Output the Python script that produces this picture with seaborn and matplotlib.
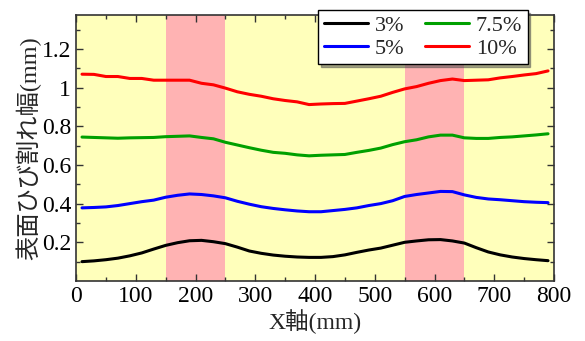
import numpy as np
import matplotlib
matplotlib.use("Agg")
import matplotlib.pyplot as plt
import seaborn as sns
import pandas as pd

# positions along the member (mm)
x_mm = [10, 30, 50, 70, 90, 110, 130, 150, 170, 190,
        210, 230, 250, 270, 290, 310, 330, 350, 370, 390,
        410, 430, 450, 470, 490, 510, 530, 550, 570, 590,
        610, 630, 650, 670, 690, 710, 730, 750, 770, 790]

# surface crack width (mm)
w_3 = [0.100, 0.104, 0.110, 0.118, 0.130, 0.145, 0.165, 0.184, 0.198, 0.208,
       0.210, 0.203, 0.193, 0.175, 0.155, 0.143, 0.134, 0.128, 0.124, 0.122,
       0.122, 0.126, 0.135, 0.148, 0.160, 0.170, 0.185, 0.200, 0.207, 0.213,
       0.214, 0.207, 0.196, 0.172, 0.150, 0.135, 0.124, 0.116, 0.110, 0.105]
w_5 = [0.378, 0.380, 0.383, 0.390, 0.400, 0.410, 0.418, 0.433, 0.443, 0.450,
       0.447, 0.440, 0.430, 0.412, 0.397, 0.384, 0.375, 0.368, 0.362, 0.358,
       0.358, 0.364, 0.370, 0.378, 0.390, 0.400, 0.415, 0.437, 0.447, 0.455,
       0.463, 0.462, 0.445, 0.432, 0.424, 0.420, 0.415, 0.410, 0.407, 0.405]
w_75 = [0.744, 0.742, 0.740, 0.738, 0.740, 0.741, 0.742, 0.746, 0.748, 0.750,
        0.742, 0.735, 0.717, 0.703, 0.689, 0.676, 0.665, 0.660, 0.652, 0.647,
        0.650, 0.652, 0.654, 0.665, 0.675, 0.687, 0.705, 0.720, 0.730, 0.745,
        0.754, 0.754, 0.740, 0.737, 0.737, 0.742, 0.745, 0.750, 0.755, 0.761]
w_10 = [1.069, 1.068, 1.057, 1.057, 1.047, 1.047, 1.038, 1.038, 1.038, 1.038,
        1.022, 1.014, 0.997, 0.978, 0.965, 0.955, 0.942, 0.933, 0.926, 0.912,
        0.915, 0.917, 0.918, 0.930, 0.942, 0.955, 0.975, 0.993, 1.005, 1.022,
        1.036, 1.044, 1.036, 1.038, 1.040, 1.050, 1.057, 1.065, 1.072, 1.086]

labels = ["3%", "5%", "7.5%", "10%"]
colors = ["black", "blue", "#00a000", "red"]
bands = [(150, 250), (550, 650)]

df = pd.concat([
    pd.DataFrame({"x": x_mm, "w": w, "case": lab})
    for w, lab in zip([w_3, w_5, w_75, w_10], labels)
])

sns.set_style("ticks")
plt.rcParams['font.family'] = ['Liberation Serif', 'Noto Sans CJK JP']

fig = plt.figure(figsize=(5.85, 3.41), dpi=100)
ax = fig.add_axes([0.130, 0.176, 0.817, 0.780])
ax.set_facecolor("#ffffbb")

for a, b in bands:
    ax.axvspan(a, b, color="#ffb3b3", lw=0, zorder=0)

sns.lineplot(data=df, x="x", y="w", hue="case", palette=colors,
             hue_order=labels, linewidth=2.2, ax=ax, legend=False, zorder=3)

ax.set_xlim(0, 800)
ax.set_ylim(0, 1.375)
ax.set_xticks(np.arange(0, 801, 100))
ax.set_xticks(np.arange(0, 801, 50), minor=True)
ax.set_yticks([0.2, 0.4, 0.6, 0.8, 1.0, 1.2])
ax.set_yticklabels(["0.2", "0.4", "0.6", "0.8", "1", "1.2"])
ax.set_yticks(np.arange(0.1, 1.35, 0.1), minor=True)
ax.tick_params(which="both", direction="in", top=True, right=True,
               labelsize=17, width=1, color="#333333", labelcolor="black")
ax.tick_params(which="major", length=5)
ax.tick_params(which="minor", length=3)
for s in ax.spines.values():
    s.set_linewidth(1.2)
    s.set_color("#333333")

ax.set_xlabel("X軸(mm)", fontsize=17, labelpad=2)
ax.set_ylabel("表面ひび割れ幅(mm)", fontsize=17.5, labelpad=0)

handles = [plt.Line2D([], [], color=c, lw=2.2) for c in colors]
leg = ax.legend(handles, labels, ncol=2, loc="upper left",
                bbox_to_anchor=(0.544, 0.971), bbox_transform=fig.transFigure,
                borderaxespad=0, fontsize=16, frameon=True, fancybox=False,
                shadow=True, framealpha=1, edgecolor="black",
                handlelength=2.0, columnspacing=0.9, handletextpad=0.3,
                labelspacing=0.1, borderpad=0.25)
leg.get_frame().set_linewidth(1)
leg.set_zorder(10)

plt.savefig("out.png", dpi=100)
